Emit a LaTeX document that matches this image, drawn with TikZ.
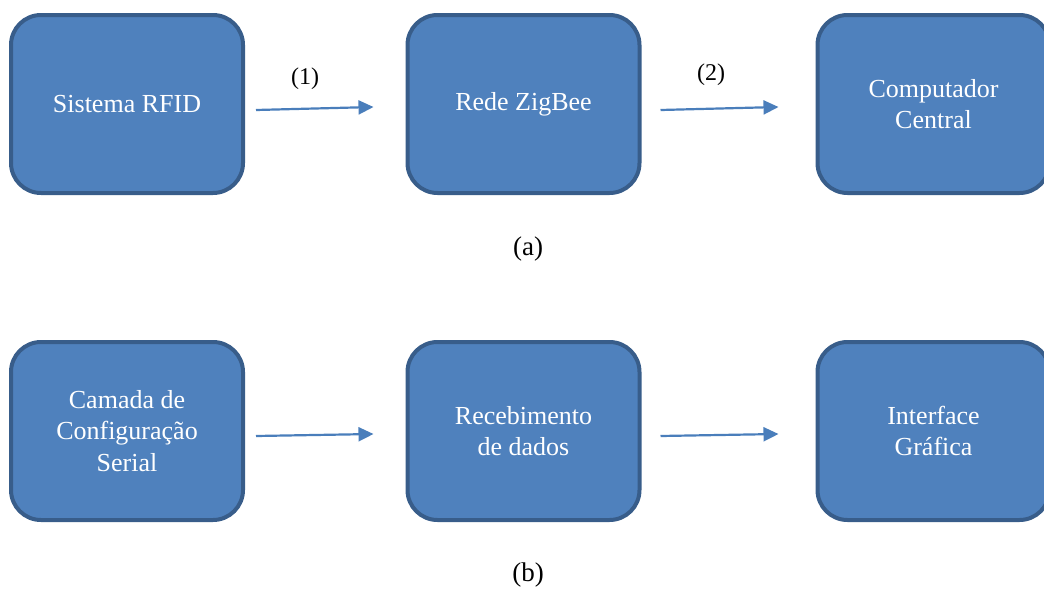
\documentclass[tikz,border=0pt]{standalone}
\usepackage{fontspec}
\setmainfont{Liberation Serif}
\usepackage{tikz}
\usetikzlibrary{arrows.meta, positioning}
\definecolor{boxfill}{HTML}{4F81BD}
\definecolor{boxline}{HTML}{385D8A}
\definecolor{arrowblue}{HTML}{4A7EBB}

\tikzset{
  block/.style={draw=boxline, fill=boxfill, line width=4pt, rounded corners=30pt,
    minimum width=232pt, minimum height=178pt, align=center, text=white,
    font=\fontsize{26}{31.5}\selectfont},
  flow/.style={draw=arrowblue, line width=2.2pt, -{Triangle[length=15pt,width=14pt]}},
  tag/.style={font=\fontsize{24}{28}\selectfont},
  caption/.style={font=\fontsize{27}{32}\selectfont}
}

\begin{document}
\begin{tikzpicture}[x=1pt, y=-1pt]
  \useasboundingbox (0,0) rectangle (1044,589);

  % (a) row
  \node[block] (rfid) at (127,104) {Sistema RFID};
  \node[block] (zigbee) at (523.5,104) {Rede ZigBee};
  \node[block] (central) at (933.5,104) {Computador\\Central};
  \draw[flow] ([xshift=11pt,yshift=-6pt]rfid.east) -- ([xshift=-32pt,yshift=-3pt]zigbee.west);
  \draw[flow] ([xshift=19pt,yshift=-6pt]zigbee.east) -- ([xshift=-37pt,yshift=-3pt]central.west);
  \node[tag] (lbl1) at (305,79) {(1)};
  \node[tag] (lbl2) at (711,75) {(2)};
  \node[caption] (capa) at (528,249) {(a)};

  % (b) row
  \node[block] (serial) at (127,431) {Camada de\\Configuração\\Serial};
  \node[block] (dados) at (523.5,431) {Recebimento\\de dados};
  \node[block] (gui) at (933.5,431) {Interface\\Gráfica};
  \draw[flow] ([xshift=11pt,yshift=-5pt]serial.east) -- ([xshift=-32pt,yshift=-3pt]dados.west);
  \draw[flow] ([xshift=19pt,yshift=-5pt]dados.east) -- ([xshift=-37pt,yshift=-3pt]gui.west);
  \node[caption] (capb) at (528,575) {(b)};
\end{tikzpicture}
\end{document}
